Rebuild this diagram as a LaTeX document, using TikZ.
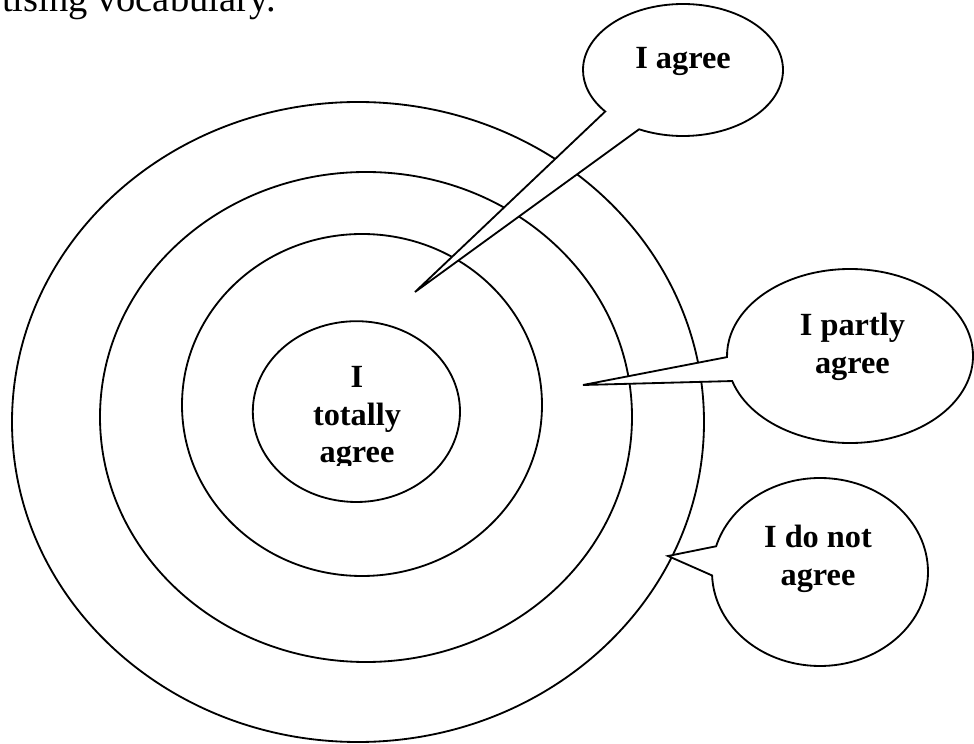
\documentclass[tikz,border=0pt]{standalone}
\usepackage{fontspec}
\setmainfont{Liberation Serif}
\usetikzlibrary{shapes.callouts}

\begin{document}
\begin{tikzpicture}[line width=1.3pt,
    bubble/.style={ellipse callout, draw, fill=white, inner sep=0pt},
    word/.style={font=\fontsize{23}{27}\selectfont\bfseries, align=center, inner sep=0pt}]
  \useasboundingbox (0,0) rectangle (24.35,-18.6);
  \node[anchor=base west, inner sep=0pt, font=\fontsize{27.4}{30}\selectfont] (head) at (0.03,-0.3) {tising vocabulary.};
  % the rings
  \draw (8.95,-10.55) ellipse [x radius=8.65, y radius=8.0];
  \draw (9.15,-10.425) ellipse [x radius=6.65, y radius=6.125];
  \draw (9.05,-10.125) ellipse [x radius=4.5, y radius=4.275];
  \draw (8.91,-10.29) ellipse [x radius=2.59, y radius=2.26];
  \begin{scope}
    \clip (6.5,-8.2) rectangle (11.5,-11.63);
    \node[word] (total) at (8.925,-10.45) {I\\totally\\agree};
  \end{scope}
  % where the callouts point
  \coordinate (agreetip) at (10.375,-7.3);
  \coordinate (partlytip) at (14.575,-9.625);
  \coordinate (nottip) at (16.7,-13.9);
  \node[bubble, minimum width=5cm, minimum height=3.3cm, callout absolute pointer={(agreetip)}, callout pointer arc=25] (agree) at (17.075,-1.75) {};
  \node[bubble, minimum width=6.15cm, minimum height=4.35cm, callout absolute pointer={(partlytip)}, callout pointer arc=16] (partly) at (21.25,-8.9) {};
  \node[bubble, minimum width=5.4cm, minimum height=4.7cm, callout absolute pointer={(nottip)}, callout pointer arc=18] (notagree) at (20.5,-14.3) {};
  \node[word] (agreetxt) at (17.075,-1.525) {I agree};
  \node[word] (partlytxt) at (21.31,-8.675) {I partly\\agree};
  \node[word] (nottxt) at (20.45,-13.975) {I do not\\agree};
\end{tikzpicture}
\end{document}
